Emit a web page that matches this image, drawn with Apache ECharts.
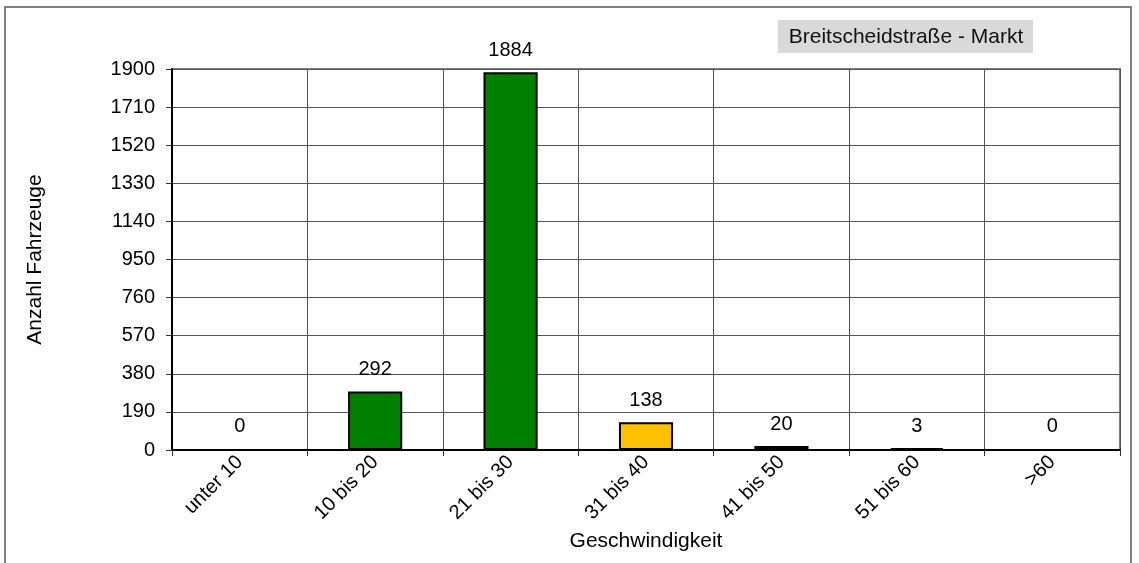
<!DOCTYPE html>
<html><head><meta charset="utf-8">
<script src="https://cdn.jsdelivr.net/npm/echarts@6/dist/echarts.min.js"></script>
<style>html,body{margin:0;padding:0;background:#fff}#c{width:1139px;height:563px}</style>
</head><body><div id="c"></div>
<script>
const categories = ['unter 10','10 bis 20','21 bis 30','31 bis 40','41 bis 50','51 bis 60','>60'];
const counts = [0, 292, 1884, 138, 20, 3, 0];
const barColors = ['#008000','#008000','#008000','#FFC000','#C00000','#800000','#800000'];
const titleText = 'Breitscheidstraße - Markt';

const chart = echarts.init(document.getElementById('c'));
const F = 'Liberation Sans, Arial, sans-serif';
const FS = 20;
const FN = 21;
chart.setOption({
  animation: false,
  textStyle: {fontFamily: F},
  graphic: [
    {type:'rect', shape:{x:5, y:7, width:1126, height:600}, style:{fill:'none', stroke:'#808080', lineWidth:2}, z:-1},
    {type:'rect', shape:{x:778, y:20, width:255, height:33}, style:{fill:'#d9d9d9'}},
    {type:'text', x:906, y:37, style:{text:titleText, fill:'#111', font:FN + 'px ' + F, align:'center', verticalAlign:'middle'}, z:10}
  ],
  grid: {left:172, right:19, top:69, bottom:113, show:true, borderColor:'#808080', borderWidth:2},
  xAxis: {
    type:'category', data:categories,
    name:'Geschwindigkeit', nameLocation:'middle', nameGap:80,
    nameTextStyle:{fontSize:FN, color:'#000', fontFamily:F},
    axisLine:{lineStyle:{color:'#000', width:2}},
    axisTick:{show:true, length:6, lineStyle:{color:'#333'}},
    axisLabel:{rotate:45, fontSize:FS, color:'#000', margin:9, fontFamily:F, interval:0},
    splitLine:{show:true, lineStyle:{color:'#555', width:1}}
  },
  yAxis: {
    type:'value', min:0, max:1900, interval:190,
    name:'Anzahl Fahrzeuge', nameLocation:'middle', nameGap:126,
    nameTextStyle:{fontSize:FN, color:'#000', fontFamily:F},
    axisLine:{show:true, lineStyle:{color:'#000', width:2}},
    axisTick:{show:true, length:6, lineStyle:{color:'#333'}},
    axisLabel:{fontSize:FS, color:'#000', margin:17, fontFamily:F, formatter:v=>String(v)},
    splitLine:{show:true, lineStyle:{color:'#555', width:1}}
  },
  series: [{
    type:'bar', barWidth:'40%', barMinHeight:2,
    data: counts.map((v,i)=>({value:v, itemStyle:{color: v === 0 ? 'transparent' : barColors[i], borderWidth: v === 0 ? 0 : 2}})),
    itemStyle:{borderColor:'#000'},
    label:{show:true, position:'top', distance:12, fontSize:FS, color:'#000', fontFamily:F}
  }]
});
</script></body></html>
